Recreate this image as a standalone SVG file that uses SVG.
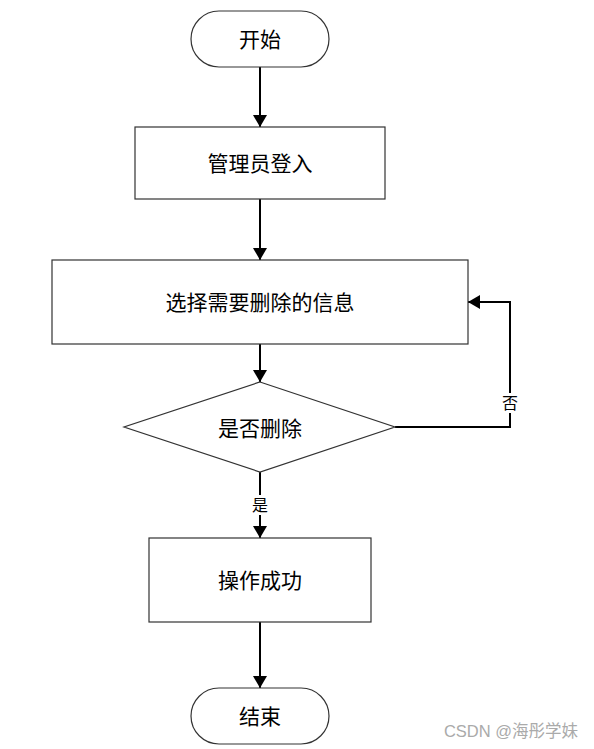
<svg xmlns="http://www.w3.org/2000/svg" width="594" height="749" viewBox="0 0 594 749">
<style>
.shape{fill:#fff;stroke:#333;stroke-width:1.2}
.t{font-family:"Liberation Sans","Noto Sans CJK SC",sans-serif;font-size:21px;fill:#000;text-anchor:middle;dominant-baseline:central}
.lbl{font-family:"Liberation Sans","Noto Sans CJK SC",sans-serif;font-size:16px;fill:#000;text-anchor:middle;dominant-baseline:central}
.c{fill:none;stroke:#000;stroke-width:2}
</style>
<defs>
<marker id="ah" viewBox="0 0 12 14" refX="12" refY="7" markerWidth="12" markerHeight="14" markerUnits="userSpaceOnUse" orient="auto">
<path d="M0,0 L12,7 L0,14 Z" fill="#000"/>
</marker>
</defs>
<rect width="594" height="749" fill="#fff"/>
<g id="connectors">
<line class="c" x1="260" y1="67" x2="260" y2="127" marker-end="url(#ah)"/>
<line class="c" x1="260" y1="199" x2="260" y2="260" marker-end="url(#ah)"/>
<line class="c" x1="260" y1="344" x2="260" y2="382" marker-end="url(#ah)"/>
<polyline class="c" points="395,427 510,427 510,302 468,302" marker-end="url(#ah)"/>
<line class="c" x1="260" y1="472" x2="260" y2="538" marker-end="url(#ah)"/>
<line class="c" x1="260" y1="622" x2="260" y2="688" marker-end="url(#ah)"/>
<rect x="500" y="393" width="20" height="20" fill="#fff"/>
<text class="lbl" x="510" y="403">否</text>
<rect x="250" y="495" width="20" height="20" fill="#fff"/>
<text class="lbl" x="260" y="505">是</text>
</g>
<g id="start">
<rect class="shape" x="191" y="11" width="138" height="56" rx="28" ry="28"/>
<text class="t" x="260" y="39">开始</text>
</g>
<g id="login">
<rect class="shape" x="135" y="127" width="250" height="72"/>
<text class="t" x="260" y="163">管理员登入</text>
</g>
<g id="select">
<rect class="shape" x="52" y="260" width="416" height="84"/>
<text class="t" x="260" y="302">选择需要删除的信息</text>
</g>
<g id="decide">
<polygon class="shape" points="260,382 395,427 260,472 124,427"/>
<text class="t" x="260" y="428">是否删除</text>
</g>
<g id="success">
<rect class="shape" x="149" y="538" width="222" height="84"/>
<text class="t" x="260" y="580">操作成功</text>
</g>
<g id="end">
<rect class="shape" x="191" y="688" width="138" height="56" rx="28" ry="28"/>
<text class="t" x="260" y="716">结束</text>
</g>
<text x="578" y="731" font-family="'Liberation Sans','Noto Sans CJK SC',sans-serif" font-size="16.5" fill="#aaa" text-anchor="end" dominant-baseline="central">CSDN @海彤学妹</text>
</svg>
